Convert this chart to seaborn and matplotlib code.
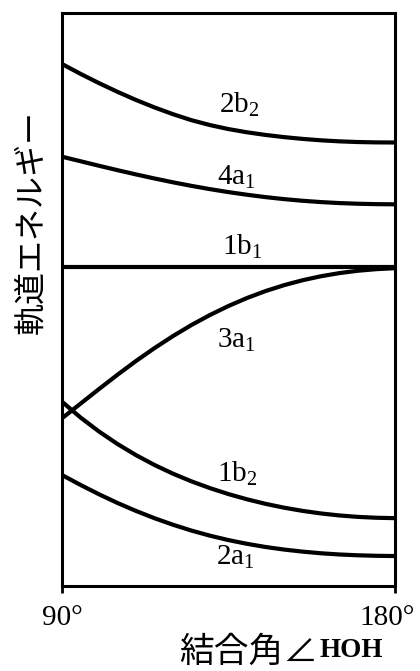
import numpy as np
import pandas as pd
import matplotlib
matplotlib.use("Agg")
import matplotlib.pyplot as plt
import matplotlib.transforms as mtransforms
import seaborn as sns

# ---- data (arbitrary energy units 0-100) ----
angles = [90, 95, 100, 105, 110, 115, 120, 125, 130, 135,
          140, 145, 150, 155, 160, 165, 170, 175, 180]
e_2b2 = [91.10, 89.38, 87.76, 86.24, 84.82, 83.52, 82.34, 81.29, 80.44, 79.74,
         79.18, 78.72, 78.34, 78.03, 77.78, 77.60, 77.48, 77.42, 77.40]
e_4a1 = [74.92, 74.13, 73.34, 72.57, 71.83, 71.12, 70.45, 69.83, 69.26, 68.74,
         68.28, 67.87, 67.52, 67.23, 67.00, 66.83, 66.71, 66.64, 66.61]
e_1b1 = [55.72] * 19
e_3a1 = [29.27, 31.82, 34.37, 36.87, 39.27, 41.52, 43.62, 45.55, 47.30, 48.87,
         50.26, 51.47, 52.50, 53.36, 54.06, 54.61, 55.02, 55.30, 55.46]
e_1b2 = [32.16, 29.41, 26.96, 24.78, 22.84, 21.12, 19.60, 18.26, 17.08, 16.04,
         15.13, 14.34, 13.67, 13.11, 12.66, 12.31, 12.06, 11.91, 11.84]
e_2a1 = [19.37, 17.64, 16.01, 14.49, 13.10, 11.83, 10.69, 9.67, 8.78, 8.01,
         7.36, 6.81, 6.36, 6.00, 5.71, 5.50, 5.36, 5.27, 5.23]

orbitals = ["2b2", "4a1", "1b1", "3a1", "1b2", "2a1"]
orbital_labels = [r"$\mathrm{2b_2}$", r"$\mathrm{4a_1}$", r"$\mathrm{1b_1}$",
                  r"$\mathrm{3a_1}$", r"$\mathrm{1b_2}$", r"$\mathrm{2a_1}$"]
tick_values = [90, 180]
tick_labels = ["90°", "180°"]
ylabel_text = "軌道エネルギー"
xlabel_cjk = "結合角∠"
xlabel_latin = "HOH"

series = [e_2b2, e_4a1, e_1b1, e_3a1, e_1b2, e_2a1]
df = pd.DataFrame({
    "angle": np.tile(angles, len(orbitals)),
    "energy": np.concatenate(series),
    "orbital": np.repeat(orbitals, len(angles)),
})

# label anchor positions (left edge, baseline) in data coords
label_pos = [(132.4, 82.5), (131.9, 70.0), (133.2, 57.8),
             (131.9, 41.5), (131.9, 18.2), (131.6, 3.7)]

sns.set_theme(style="ticks")
plt.rcParams["font.family"] = ["Liberation Serif", "Noto Sans CJK JP", "DejaVu Sans"]
plt.rcParams["mathtext.fontset"] = "custom"
plt.rcParams["mathtext.rm"] = "Liberation Serif"
plt.rcParams["mathtext.it"] = "Liberation Serif:italic"
plt.rcParams["mathtext.bf"] = "Liberation Serif:bold"

fig = plt.figure(figsize=(4.2, 6.71), dpi=100)
ax = fig.add_axes([62 / 420, 85 / 671, 333 / 420, 573 / 671])

sns.lineplot(data=df, x="angle", y="energy", hue="orbital",
             palette={o: "black" for o in orbitals}, legend=False,
             linewidth=3.0, ax=ax, estimator=None, sort=True)
for ln in ax.get_lines():
    ln.set_solid_joinstyle("round")
    ln.set_solid_capstyle("butt")

for lab, (x, y) in zip(orbital_labels, label_pos):
    ax.text(x, y, lab, fontsize=21, ha="left", va="baseline", color="black")

ax.set_xlim(90, 180)
ax.set_ylim(0, 100)
ax.set_xticks(tick_values)
ax.set_xticklabels(tick_labels, fontsize=21, family="Liberation Serif")
ax.set_yticks([])
ax.tick_params(axis="x", direction="out", length=5, width=2, pad=9, colors="black")
for s in ax.spines.values():
    s.set_visible(True)
    s.set_linewidth(2.2)
    s.set_color("black")

# keep the right tick label inside the canvas, as in the reference
right_lbl = ax.get_xticklabels()[-1]
right_lbl.set_transform(right_lbl.get_transform() +
                        mtransforms.ScaledTranslation(-0.075, 0, fig.dpi_scale_trans))

ax.set_xlabel("")
ax.set_ylabel(ylabel_text, fontsize=23, family="Noto Sans CJK JP", color="black")
ax.yaxis.set_label_coords(-0.093, 0.635)
ax.yaxis.label.set_va("center")

ax.text(0.770, -0.115, xlabel_cjk, transform=ax.transAxes, fontsize=25,
        family="Noto Sans CJK JP", ha="right", va="center", color="black")
ax.text(0.773, -0.113, xlabel_latin, transform=ax.transAxes, fontsize=19.5,
        family="Liberation Serif", fontweight="bold", ha="left", va="center",
        color="black")

fig.savefig("out.png", dpi=100, facecolor="white")
